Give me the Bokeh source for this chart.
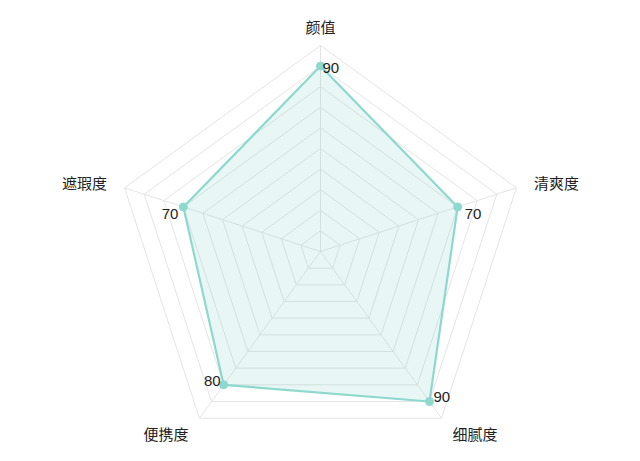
import numpy as np
from bokeh.plotting import figure
from bokeh.models import Range1d, ColumnDataSource
from bokeh.core.properties import value
from bokeh.embed import file_html
from bokeh.resources import INLINE

categories = ["颜值", "清爽度", "细腻度", "便携度", "遮瑕度"]
values = [90, 70, 90, 80, 70]
max_value = 100
ring_levels = [10, 20, 30, 40, 50, 60, 70, 80, 90, 100]

# style
FONT = "Noto Sans CJK SC"
NUM_FONT = "Liberation Sans"
LINE_COLOR = "#8dd9ce"
FILL_COLOR = "#8dd9ce"
GRID_COLOR = "#e4e4e4"
TEXT_COLOR = "#222222"
name_radius = 109
name_align = ["center", "left", "left", "right", "right"]
val_align = ["left", "left", "left", "right", "right"]
val_xoff = [2, 7, 4, -3, -5]
val_yoff = [2, 7, -4, -4, 7]

W, H = 624, 445
px_per_unit = 2.06
cx_px, cy_px = 320, 251  # centre within plot area
x_range = Range1d(-cx_px / px_per_unit, (W - cx_px) / px_per_unit)
y_range = Range1d(-(H - cy_px) / px_per_unit, cy_px / px_per_unit)

p = figure(width=W, height=H, x_range=x_range, y_range=y_range,
           output_backend="svg", toolbar_location=None, min_border=0)
p.axis.visible = False
p.grid.visible = False
p.outline_line_color = None
p.background_fill_color = "white"
p.border_fill_color = "white"

n = len(categories)
angles = np.array([2 * np.pi * i / n for i in range(n)])
sx, sy = np.sin(angles), np.cos(angles)

# grid rings
for lv in ring_levels:
    xs = list(lv * sx) + [lv * sx[0]]
    ys = list(lv * sy) + [lv * sy[0]]
    p.line(xs, ys, line_color=GRID_COLOR, line_width=1)
# spokes
for i in range(n):
    p.line([0, max_value * sx[i]], [0, max_value * sy[i]], line_color=GRID_COLOR, line_width=1)

# data polygon
vals = np.array(values, dtype=float)
dx, dy = vals * sx, vals * sy
p.patch(list(dx), list(dy), fill_color=FILL_COLOR, fill_alpha=0.2, line_color=None)
p.line(list(dx) + [dx[0]], list(dy) + [dy[0]], line_color=LINE_COLOR, line_width=2.2)
p.scatter(dx, dy, size=8, fill_color=LINE_COLOR, line_color=LINE_COLOR)

# value labels
src = ColumnDataSource(dict(x=dx, y=dy, t=[str(v) for v in values],
                            align=val_align, xo=val_xoff, yo=val_yoff))
p.text(x="x", y="y", text="t", source=src, text_align="align", text_baseline="middle",
       x_offset="xo", y_offset="yo", text_font=value(NUM_FONT), text_font_size="15px",
       text_color=TEXT_COLOR)

# category names
nsrc = ColumnDataSource(dict(x=name_radius * sx, y=name_radius * sy, t=categories, align=name_align))
p.text(x="x", y="y", text="t", source=nsrc, text_align="align", text_baseline="middle",
       text_font=value(FONT), text_font_size="15px", text_color=TEXT_COLOR)

open("out.html", "w").write(file_html(p, INLINE))
